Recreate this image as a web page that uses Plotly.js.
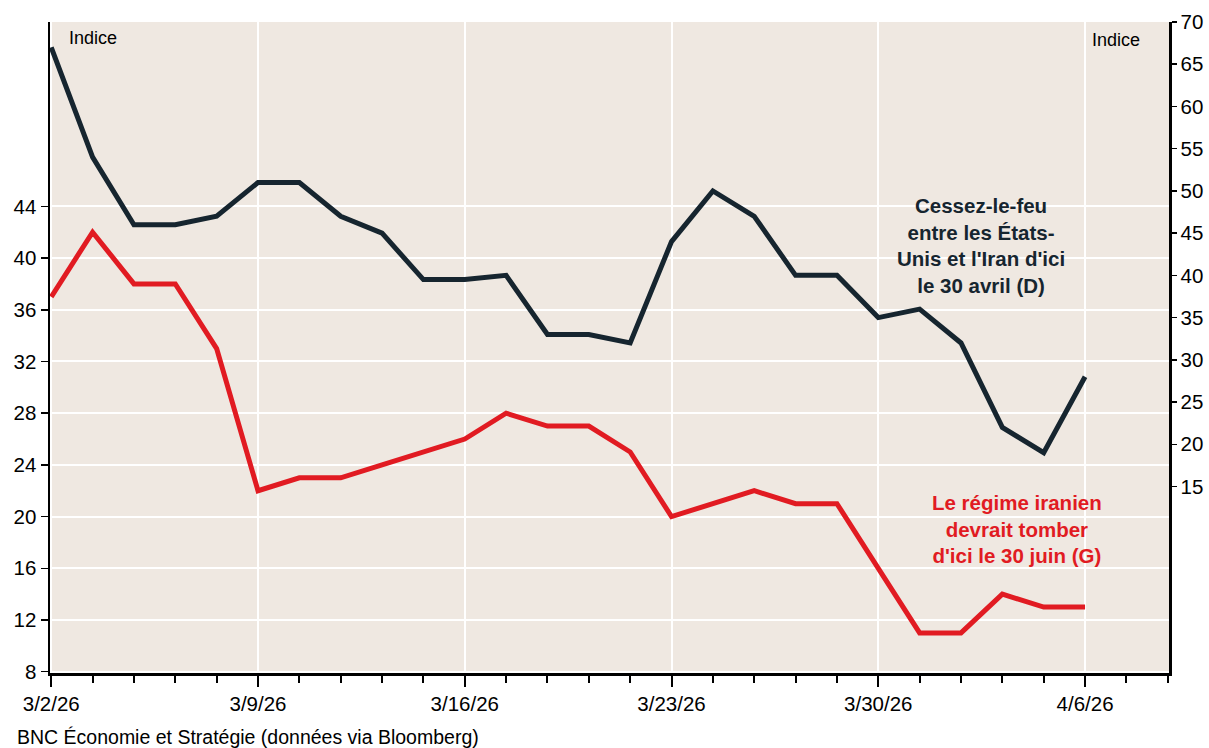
<!DOCTYPE html>
<html>
<head>
<meta charset="utf-8">
<script src="https://cdn.plot.ly/plotly-3.0.1.min.js"></script>
<style>
  html, body { margin: 0; padding: 0; background: #ffffff; }
  #chart { width: 1209px; height: 748px; }
</style>
</head>
<body>
<div id="chart"></div>
<script>
// Trading days (business days) shown on the x axis
const dates = [
  '3/2/26','3/3/26','3/4/26','3/5/26','3/6/26',
  '3/9/26','3/10/26','3/11/26','3/12/26','3/13/26',
  '3/16/26','3/17/26','3/18/26','3/19/26','3/20/26',
  '3/23/26','3/24/26','3/25/26','3/26/26','3/27/26',
  '3/30/26','3/31/26','4/1/26','4/2/26','4/3/26',
  '4/6/26','4/7/26','4/8/26'
];
// Labelled (Monday) ticks
const majorTickLabels = ['3/2/26','3/9/26','3/16/26','3/23/26','3/30/26','4/6/26'];

// Ceasefire between the US and Iran by April 30 (right axis)
const ceasefire = [67, 54, 46, 46, 47, 51, 51, 47, 45, 39.5, 39.5, 40, 33, 33, 32, 44, 50, 47, 40, 40, 35, 36, 32, 22, 19, 28];
// Iranian regime should fall by June 30 (left axis)
const regime = [37, 42, 38, 38, 33, 22, 23, 23, 24, 25, 26, 28, 27, 27, 25, 20, 21, 22, 21, 21, 16, 11, 11, 14, 13, 13];

const leftTicks = [8, 12, 16, 20, 24, 28, 32, 36, 40, 44];
const rightTicks = [15, 20, 25, 30, 35, 40, 45, 50, 55, 60, 65, 70];

const xIndex = dates.map((d, i) => i);
const majorIdx = majorTickLabels.map(l => dates.indexOf(l));

const navy = '#16252f';
const red = '#e11b22';
const font = 'Liberation Sans, Arial, sans-serif';

const traces = [
  {
    x: xIndex.slice(0, regime.length),
    y: regime,
    type: 'scatter', mode: 'lines',
    line: { color: red, width: 5 },
    yaxis: 'y', hoverinfo: 'skip', showlegend: false
  },
  {
    x: xIndex.slice(0, ceasefire.length),
    y: ceasefire,
    type: 'scatter', mode: 'lines',
    line: { color: navy, width: 5 },
    yaxis: 'y2', hoverinfo: 'skip', showlegend: false
  }
];

const layout = {
  width: 1209, height: 748,
  margin: { l: 50, r: 40, t: 22, b: 75 },
  paper_bgcolor: '#ffffff',
  plot_bgcolor: '#efe8e1',
  font: { family: font, size: 20, color: '#000000' },
  showlegend: false,
  xaxis: {
    range: [-0.03, 27.03],
    tickmode: 'array',
    tickvals: majorIdx,
    ticktext: majorTickLabels,
    ticks: 'outside', ticklen: 11, tickwidth: 2, tickcolor: '#000',
    minor: { tick0: 0, dtick: 1, ticks: 'outside', ticklen: 7, tickwidth: 2, tickcolor: '#000', showgrid: false },
    showgrid: true, gridcolor: '#ffffff', gridwidth: 2,
    showline: true, linecolor: '#000', linewidth: 2.5,
    zeroline: false,
    tickfont: { family: font, size: 20.5, color: '#000' },
    fixedrange: true
  },
  yaxis: {
    range: [7.9, 58.26],
    tickmode: 'array',
    tickvals: leftTicks,
    ticks: 'outside', ticklen: 7, tickwidth: 1.5, tickcolor: '#000',
    showgrid: true, gridcolor: '#ffffff', gridwidth: 2,
    showline: true, linecolor: '#000', linewidth: 2.5,
    zeroline: false,
    tickfont: { family: font, size: 20.5, color: '#000' },
    fixedrange: true
  },
  yaxis2: {
    overlaying: 'y', side: 'right',
    range: [-7.08, 70],
    tickmode: 'array',
    tickvals: rightTicks,
    ticks: 'outside', ticklen: 5, tickwidth: 1.5, tickcolor: '#000',
    showgrid: false,
    showline: true, linecolor: '#000', linewidth: 2.5,
    zeroline: false,
    tickfont: { family: font, size: 20.5, color: '#000' },
    fixedrange: true
  },
  annotations: [
    { xref: 'paper', yref: 'paper', x: 0.0152, y: 0.975, xanchor: 'left', yanchor: 'middle',
      text: 'Indice', showarrow: false, font: { family: font, size: 18, color: '#000' } },
    { xref: 'paper', yref: 'paper', x: 0.953, y: 0.972, xanchor: 'center', yanchor: 'middle',
      text: 'Indice', showarrow: false, font: { family: font, size: 18, color: '#000' } },
    { xref: 'paper', yref: 'paper', x: 0.832, y: 0.657, xanchor: 'center', yanchor: 'middle', align: 'center',
      text: "<b>Cessez-le-feu<br>entre les États-<br>Unis et l'Iran d'ici<br>le 30 avril (D)</b>",
      showarrow: false, font: { family: font, size: 20.5, color: navy } },
    { xref: 'paper', yref: 'paper', x: 0.864, y: 0.221, xanchor: 'center', yanchor: 'middle', align: 'center',
      text: "<b>Le régime iranien<br>devrait tomber<br>d'ici le 30 juin (G)</b>",
      showarrow: false, font: { family: font, size: 20.5, color: red } },
    { xref: 'paper', yref: 'paper', x: -0.0313, y: -0.0983, xanchor: 'left', yanchor: 'middle',
      text: 'BNC Économie et Stratégie (données via Bloomberg)', showarrow: false,
      font: { family: font, size: 19.5, color: '#000' } }
  ]
};

Plotly.newPlot('chart', traces, layout, { staticPlot: true, displayModeBar: false });
</script>
</body>
</html>
